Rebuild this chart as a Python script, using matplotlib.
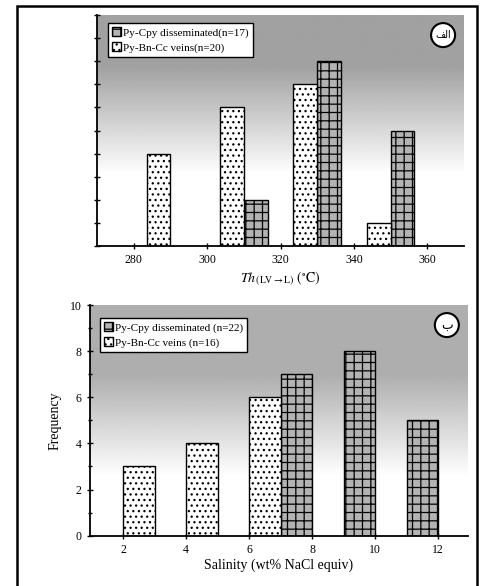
import numpy as np
import matplotlib
matplotlib.use("Agg")
import matplotlib.pyplot as plt
from matplotlib.patches import Rectangle, Ellipse

# data: homogenization temperature (top)
th_edges = [290, 310, 330, 350]
th_veins = [4, 6, 7, 1]
th_diss_edges = [310, 330, 350]
th_diss = [2, 8, 5]

# data: salinity (bottom)
sal_veins_edges = [2, 4, 6]
sal_veins = [3, 4, 6]
sal_diss_edges = [7, 9, 11]
sal_diss = [7, 8, 5]

plt.rcParams['font.family'] = ['Liberation Serif', 'DejaVu Sans']
plt.rcParams['mathtext.fontset'] = 'stix'
plt.rcParams['hatch.linewidth'] = 0.9
plt.rcParams['hatch.color'] = 'black'

fig = plt.figure(figsize=(4.81, 5.86), dpi=100)

ax1 = fig.add_axes([97/481, (586-246)/586, 367/481, 231/586])
ax2 = fig.add_axes([90/481, (586-535.7)/586, 378/481, 230.7/586])


def gradient_bg(ax, g0, flat, white):
    y = np.linspace(1, 0, 300)
    v = np.where(y > 1 - flat, g0,
                 np.where(y < 1 - white, 1.0,
                          g0 + (1 - g0) * ((1 - flat) - y) / (white - flat)))
    ax.imshow(v.reshape(-1, 1), cmap='gray', vmin=0, vmax=1, aspect='auto',
              extent=[0, 1, 0, 1], transform=ax.transAxes, zorder=0)


def style_axes(ax):
    for s in ['top', 'right']:
        ax.spines[s].set_visible(False)
    ax.spines['left'].set_linewidth(1.3)
    ax.spines['bottom'].set_linewidth(1.3)
    ax.set_facecolor('white')
    ax.tick_params(direction='inout', length=5, width=1, labelsize=8.5)
    ax.tick_params(which='minor', direction='inout', length=3, width=1)


diss_style = dict(facecolor='#b3b3b3', edgecolor='black', linewidth=1.0,
                  hatch='++', zorder=2)
vein_style = dict(facecolor='white', edgecolor='black', linewidth=1.0,
                  hatch='...', zorder=2)

# top chart
gradient_bg(ax1, 0.63, 0.22, 0.69)
ax1.bar(th_diss_edges, th_diss, width=6.5, align='edge', **diss_style,
        label='Py-Cpy disseminated(n=17)')
ax1.bar(th_edges, th_veins, width=-6.5, align='edge', **vein_style,
        label='Py-Bn-Cc veins(n=20)')
ax1.set_xlim(270, 370)
ax1.set_ylim(0, 10)
ax1.set_xticks([280, 300, 320, 340, 360])
ax1.set_yticks(range(0, 11))
ax1.set_yticklabels([])
style_axes(ax1)
ax1.set_xlabel(r'$\mathit{Th}_{\,\mathrm{(LV\rightarrow L)}}\ (^{\circ}\mathrm{C})$',
               fontsize=10, labelpad=2)
leg1 = ax1.legend(loc='upper left', bbox_to_anchor=(0.03, 0.965),
                  borderaxespad=0, fontsize=8, fancybox=False, framealpha=1,
                  edgecolor='black', handlelength=0.8, handleheight=0.9,
                  handletextpad=0.2, borderpad=0.35, labelspacing=0.4)
leg1.get_frame().set_linewidth(1.0)
ax1.add_patch(Ellipse((0.943, 0.913), 24/367, 24/231, transform=ax1.transAxes,
                      facecolor='white', edgecolor='black', lw=1.5, zorder=3))
ax1.text(0.943, 0.913, '\uFED2\uFEDF\uFE8D', transform=ax1.transAxes,
         family=['DejaVu Sans'], fontsize=7, ha='center', va='center', zorder=4)

# bottom chart
gradient_bg(ax2, 0.68, 0.30, 0.74)
ax2.bar(sal_diss_edges, sal_diss, width=1, align='edge', **diss_style,
        label='Py-Cpy disseminated (n=22)')
ax2.bar(sal_veins_edges, sal_veins, width=1, align='edge', **vein_style,
        label='Py-Bn-Cc veins (n=16)')
ax2.set_xlim(0.95, 12.95)
ax2.set_ylim(0, 10)
ax2.set_xticks(range(2, 13, 2))
ax2.set_yticks(range(0, 11, 2))
ax2.set_yticks(range(1, 10, 2), minor=True)
style_axes(ax2)
ax2.set_xlabel('Salinity (wt% NaCl equiv)', fontsize=10, labelpad=2)
ax2.set_ylabel('Frequency', fontsize=10, labelpad=6)
leg2 = ax2.legend(loc='upper left', bbox_to_anchor=(0.026, 0.944),
                  borderaxespad=0, fontsize=8, fancybox=False, framealpha=1,
                  edgecolor='black', handlelength=0.8, handleheight=0.9,
                  handletextpad=0.2, borderpad=0.35, labelspacing=0.4)
leg2.get_frame().set_linewidth(1.0)
ax2.add_patch(Ellipse((0.944, 0.913), 24/378, 24/230.7, transform=ax2.transAxes,
                      facecolor='white', edgecolor='black', lw=1.5, zorder=3))
ax2.text(0.944, 0.913, '\u0628', transform=ax2.transAxes,
         family=['DejaVu Sans'], fontsize=9, ha='center', va='center', zorder=4)

# outer frame
fig.add_artist(Rectangle((17/481, -0.01), 460/481, 1.01 - 6/586,
                         transform=fig.transFigure, fill=False,
                         edgecolor='black', linewidth=1.8))

fig.savefig('out.png', dpi=100)
